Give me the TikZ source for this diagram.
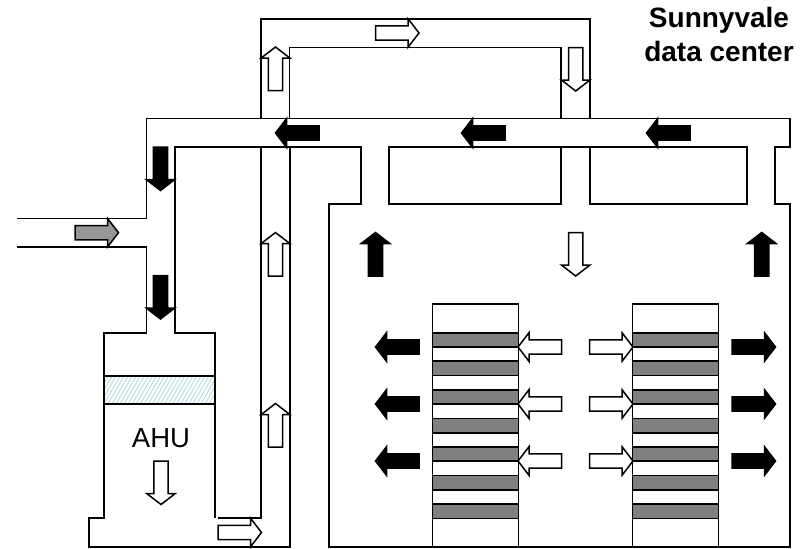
\documentclass[tikz,border=0pt]{standalone}
\usepackage{fontspec}
\setmainfont{Liberation Sans}
\usetikzlibrary{patterns.meta}
\definecolor{rackgray}{HTML}{808080}
\definecolor{inletgray}{HTML}{969696}
\definecolor{coilblue}{HTML}{B5DDE0}
\tikzset{
  x=1pt,y=-1pt,
  wall/.style={draw=black,line width=1.7pt,line join=miter},
  rackbar/.style={draw=black,line width=1.7pt,fill=rackgray},
  flowarrow/.style={draw=black,line width=1.5pt,line join=miter},
  label/.style={inner sep=0pt,text=black},
}
% #1 tail x, #2 tail y, #3 rotation, #4 fill
\newcommand{\flowarrow}[4]{%
  \path[flowarrow,fill=#4,shift={(#1,#2)},rotate=#3]
    (0,-7.2) -- (32.5,-7.2) -- (32.5,-14.3) -- (43.5,0) -- (32.5,14.3) -- (32.5,7.2) -- (0,7.2) -- cycle;}
\begin{document}
\begin{tikzpicture}
\useasboundingbox (0,0) rectangle (807,549);
% duct shell
\draw[wall] (17,218.5) -- (146.5,218.5) -- (146.5,118.5) -- (790,118.5) -- (790,147) -- (775,147) -- (775,204) -- (790,204) -- (790,547) -- (329,547) -- (329,204) -- (361,204) -- (361,147) -- (175,147) -- (175,332.7) -- (215,332.7) -- (215,518);
\draw[wall] (17,247) -- (146.5,247) -- (146.5,332.7) -- (104,332.7) -- (104,518) -- (89,518) -- (89,547) -- (290,547) -- (290,147);
\draw[wall] (218,518) -- (261,518) -- (261,147);
% upper loop
\draw[wall] (261,118.5) -- (261,19) -- (590,19) -- (590,118.5);
\draw[wall] (289.5,118.5) -- (289.5,47.5) -- (561,47.5) -- (561,118.5);
% supply plenum boxes
\draw[wall] (389,147) rectangle (561,204);
\draw[wall] (590,147) rectangle (747,204);
\draw[wall] (561,147) -- (590,147);
% coil
\draw[wall,pattern={Lines[angle=60,distance=3.5pt,line width=1pt]},pattern color=coilblue] (104,375.7) rectangle (215,404);
% racks
\foreach \rx in {432.5,632.5}{
  \draw[wall] (\rx,547) -- (\rx,304) -- (\rx+86,304) -- (\rx+86,547);
  \foreach \ry in {332.7,361.3,390,418.5,447,475.6,504.2}
    \draw[rackbar] (\rx,\ry) rectangle (\rx+86,\ry+14.3);
}
% arrows
\flowarrow{75}{232.7}{0}{inletgray}
\flowarrow{275.5}{90.5}{90}{white}
\flowarrow{275.5}{276}{90}{white}
\flowarrow{275.5}{447}{90}{white}
\flowarrow{375.5}{33}{0}{white}
\flowarrow{575.7}{47.5}{270}{white}
\flowarrow{319}{133}{180}{black}
\flowarrow{505}{133}{180}{black}
\flowarrow{690}{133}{180}{black}
\flowarrow{160.5}{147}{270}{black}
\flowarrow{160.5}{275.5}{270}{black}
\flowarrow{375.5}{276}{90}{black}
\flowarrow{761.7}{276}{90}{black}
\flowarrow{575.7}{232.5}{270}{white}
\flowarrow{161}{461}{270}{white}
\flowarrow{218}{532.5}{0}{white}
\foreach \ay in {347,404,461}{
  \flowarrow{419}{\ay}{180}{black}
  \flowarrow{561.5}{\ay}{180}{white}
  \flowarrow{589.5}{\ay}{0}{white}
  \flowarrow{732}{\ay}{0}{black}
}
% labels
\node[label,font=\fontsize{27.5}{27.5}\selectfont,anchor=base] (ahu) at (161,447) {AHU};
\node[label,font=\fontsize{28}{34}\selectfont\bfseries,anchor=base] (site1) at (719,27) {Sunnyvale};
\node[label,font=\fontsize{28}{34}\selectfont\bfseries,anchor=base] (site2) at (719,61) {data center};
\end{tikzpicture}
\end{document}
